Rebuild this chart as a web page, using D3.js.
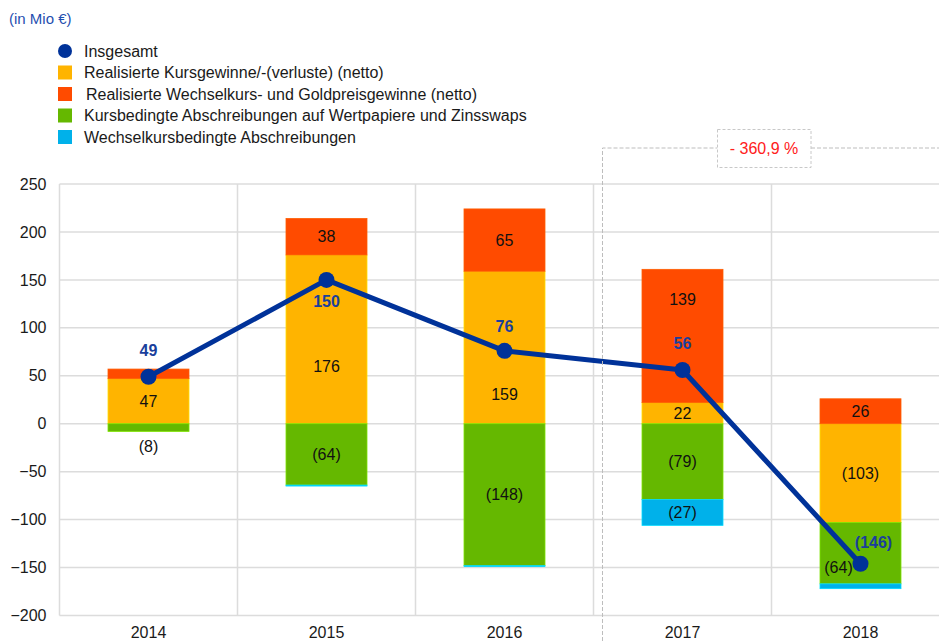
<!DOCTYPE html>
<html><head><meta charset="utf-8">
<script src="https://cdn.jsdelivr.net/npm/d3@7"></script>
<style>
html,body{margin:0;padding:0;background:#fff;}
svg{display:block;font-family:"Liberation Sans",Arial,sans-serif;}
</style></head>
<body><svg id="c" width="939" height="641"></svg>
<script>
// ---- data ----
const years = ["2014","2015","2016","2017","2018"];
const total = [49,150,76,56,-146];
const kursgewinne = [47,176,159,22,-103];
const wechselGold = [10,38,65,139,26];
const kursAbschr = [-8,-64,-148,-79,-64];
const wechselAbschr = [0,-1,-1,-27,-5];
const yTicks = [-200,-150,-100,-50,0,50,100,150,200,250];
const seriesNames = ["Insgesamt","Realisierte Kursgewinne/-(verluste) (netto)","Realisierte Wechselkurs- und Goldpreisgewinne (netto)","Kursbedingte Abschreibungen auf Wertpapiere und Zinsswaps","Wechselkursbedingte Abschreibungen"];
const changeLabel = "- 360,9 %";

// ---- style / layout ----
const FS = 16;
const colors = {kurs:"#FFB400", wg:"#FF4B00", ka:"#65B800", wa:"#00B1EA", tot:"#003299"};
// pixel nudges for a few segment labels (to avoid the line), keyed year-series
const labelNudge = {"2015-kurs":[0,27.5], "2016-kurs":[0,47], "2017-wg":[0,-37], "2018-ka":[-22,14]};
const totOffset = [[0,-26],[0,22],[0,-24],[0,-27],[13,-21]];

const svg = d3.select("#c");
const mLeft = 59.5, bandW = 178, mTop = 184, mBottom = 615.5;
const x = d3.scaleBand().domain(years).range([mLeft, mLeft + bandW*years.length]).paddingInner(0.545).paddingOuter(0.2725);
const y = d3.scaleLinear().domain([-200,250]).range([mBottom, mTop]);
const xb = d3.scaleBand().domain(years).range([mLeft, mLeft + bandW*years.length]);

// grid
const g = svg.append("g");
g.selectAll("line.h").data(yTicks).join("line")
  .attr("x1", mLeft).attr("x2", 939).attr("y1", d=>y(d)).attr("y2", d=>y(d))
  .attr("stroke","#dcdcdc").attr("stroke-width",1.5);
g.selectAll("line.v").data(years.map((d,i)=>i).concat([years.length])).join("line")
  .attr("x1", i=>mLeft + i*bandW).attr("x2", i=>mLeft + i*bandW)
  .attr("y1", mTop).attr("y2", mBottom)
  .attr("stroke","#dcdcdc").attr("stroke-width",1.5);

// y axis labels
const yAxis = d3.axisLeft(y).tickValues(yTicks).tickSize(0).tickPadding(13);
svg.append("g").attr("transform",`translate(${mLeft},0)`).call(yAxis)
  .call(s=>s.select(".domain").remove())
  .selectAll("text").attr("font-size",FS).attr("fill","#1a1a1a").attr("font-family","Liberation Sans, Arial, sans-serif");
// x axis labels
const xAxis = d3.axisBottom(xb).tickSize(0).tickPadding(11);
svg.append("g").attr("transform",`translate(0,${mBottom})`).call(xAxis)
  .call(s=>s.select(".domain").remove())
  .selectAll("text").attr("font-size",FS).attr("fill","#1a1a1a").attr("font-family","Liberation Sans, Arial, sans-serif");

// stacked bars
const rows = years.map((yr,i)=>({year:yr, kurs:kursgewinne[i], wg:wechselGold[i], ka:kursAbschr[i], wa:wechselAbschr[i]}));
const keys = ["kurs","wg","ka","wa"];
const stack = d3.stack().keys(keys).offset(d3.stackOffsetDiverging)(rows);
const bars = svg.append("g");
stack.forEach(s=>{
  bars.selectAll(null).data(s).join("rect")
    .attr("x", d=>x(d.data.year)).attr("width", x.bandwidth())
    .attr("y", d=>y(Math.max(d[0],d[1]))).attr("height", d=>Math.abs(y(d[0])-y(d[1])))
    .attr("fill", colors[s.key])
    .attr("stroke", d3.color(colors[s.key]).brighter(0.6)).attr("stroke-width",0.8);
});

// total line
const cxOf = yr => x(yr) + x.bandwidth()/2;
const pts = years.map((yr,i)=>[cxOf(yr), y(total[i])]);

// segment labels
const fmt = v => v<0 ? `(${Math.abs(v)})` : `${v}`;
stack.forEach(s=>{
  s.forEach(d=>{
    const v = d.data[s.key];
    let cx = cxOf(d.data.year), cy = y((d[0]+d[1])/2);
    if (Math.abs(v) < 20) {
      if (s.key !== "ka" || v === 0) return;
      cy = y(Math.min(d[0],d[1])) + 15;  // small negative: label below bar
    }
    const nd = labelNudge[d.data.year + "-" + s.key];
    if (nd) { cx += nd[0]; cy += nd[1]; }
    svg.append("text").attr("x",cx).attr("y",cy).attr("dy","0.35em")
      .attr("text-anchor","middle").attr("font-size",FS).attr("fill","#111").text(fmt(v));
  });
});

svg.append("path").attr("d", d3.line()(pts)).attr("fill","none")
  .attr("stroke",colors.tot).attr("stroke-width",5).attr("stroke-linejoin","round");
svg.selectAll("circle.t").data(pts).join("circle").attr("cx",d=>d[0]).attr("cy",d=>d[1]).attr("r",8).attr("fill",colors.tot);
years.forEach((yr,i)=>{
  svg.append("text").attr("x",cxOf(yr)+totOffset[i][0]).attr("y",y(total[i])+totOffset[i][1]).attr("dy","0.35em")
    .attr("text-anchor","middle").attr("font-size",FS).attr("font-weight","bold").attr("fill","#1a3f9c").text(fmt(total[i]));
});

// dashed highlight box
const bx = mLeft + 3*bandW + 9;
svg.append("path").attr("d",`M${bx},641 V148 H717.5 M811,148 H939`).attr("fill","none")
  .attr("stroke","#bdbdbd").attr("stroke-width",1).attr("stroke-dasharray","4,2");
svg.append("rect").attr("x",717.5).attr("y",129.5).attr("width",93.5).attr("height",38).attr("fill","#fff")
  .attr("stroke","#c8c8c8").attr("stroke-width",1).attr("stroke-dasharray","3,2");
svg.append("text").attr("x",764).attr("y",148.5).attr("dy","0.35em").attr("text-anchor","middle")
  .attr("font-size",FS).attr("fill","#ff2020").text(changeLabel);

// unit label
svg.append("text").attr("x",9).attr("y",19).attr("dy","0.35em").attr("font-size",15).attr("fill","#1f4fb0").text("(in Mio €)");

// legend
const lg = svg.append("g");
const legColors = [colors.tot, colors.kurs, colors.wg, colors.ka, colors.wa];
seriesNames.forEach((n,i)=>{
  const ly = 51 + i*21.5;
  if (i===0) lg.append("circle").attr("cx",65).attr("cy",ly).attr("r",7).attr("fill",legColors[i]);
  else lg.append("rect").attr("x",58).attr("y",ly-7).attr("width",14).attr("height",14).attr("fill",legColors[i]);
  lg.append("text").attr("x", i===2 ? 86 : 84).attr("y",ly).attr("dy","0.35em").attr("font-size",FS).attr("fill","#1a1a1a").text(n);
});
</script></body></html>
